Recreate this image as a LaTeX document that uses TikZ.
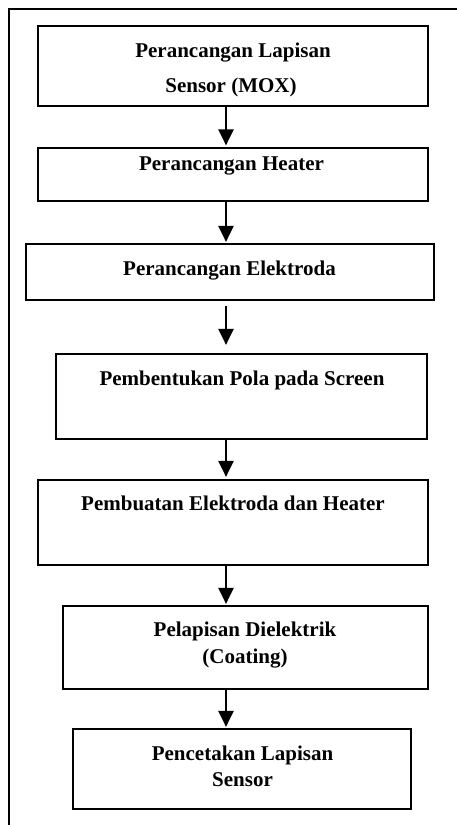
\documentclass[tikz,border=0pt]{standalone}
\usepackage{fontspec}
\setmainfont{Liberation Serif}
\usetikzlibrary{arrows.meta}
\tikzset{
  box/.style={draw, line width=2.2pt, rectangle, inner sep=0pt},
  lbl/.style={anchor=base, inner sep=0pt, font=\fontsize{21}{25}\selectfont\bfseries},
  arr/.style={line width=2.4pt, -{Triangle[width=15pt,length=16pt]}},
  frame/.style={line width=2pt}
}
\begin{document}
\begin{tikzpicture}[x=1pt,y=-1pt]
\useasboundingbox (0,0) rectangle (457,825);
% frame
\coordinate (fb) at (8.5,825);
\coordinate (fc) at (8.5,9);
\coordinate (fr) at (457,9);
\draw[frame] (fb) -- (fc) -- (fr);
% boxes
\node[box, minimum width=390pt, minimum height=80pt] (b1) at (233,66) {};
\node[box, minimum width=390pt, minimum height=53pt] (b2) at (233,174.5) {};
\node[box, minimum width=408pt, minimum height=56pt] (b3) at (230,272) {};
\node[box, minimum width=371pt, minimum height=85pt] (b4) at (241.5,396.5) {};
\node[box, minimum width=390pt, minimum height=85pt] (b5) at (233,522.5) {};
\node[box, minimum width=365pt, minimum height=83pt] (b6) at (245.5,647.5) {};
\node[box, minimum width=338pt, minimum height=80pt] (b7) at (242,769) {};
% texts
\node[lbl] (t1a) at (233,57.3) {Perancangan Lapisan};
\node[lbl] (t1b) at (231,92.5) {Sensor (MOX)};
\node[lbl] (t2) at (231.5,170) {Perancangan Heater};
\node[lbl] (t3) at (229.5,275) {Perancangan Elektroda};
\node[lbl] (t4) at (242,385) {Pembentukan Pola pada Screen};
\node[lbl] (t5) at (233,510) {Pembuatan Elektroda dan Heater};
\node[lbl] (t6a) at (245,636) {Pelapisan Dielektrik};
\node[lbl] (t6b) at (245,663) {(Coating)};
\node[lbl] (t7a) at (242.5,760) {Pencetakan Lapisan};
\node[lbl] (t7b) at (242.5,786) {Sensor};
% arrows
\coordinate (ax) at (226,0);
\draw[arr] (b1.south -| ax) -- ([yshift=1.5pt]b2.north -| ax);
\draw[arr] (b2.south -| ax) -- ([yshift=1pt]b3.north -| ax);
\draw[arr] ([yshift=-5pt]b3.south -| ax) -- ([yshift=8pt]b4.north -| ax);
\draw[arr] (b4.south -| ax) -- ([yshift=2pt]b5.north -| ax);
\draw[arr] (b5.south -| ax) -- ([yshift=1pt]b6.north -| ax);
\draw[arr] (b6.south -| ax) -- ([yshift=1pt]b7.north -| ax);
\end{tikzpicture}
\end{document}
